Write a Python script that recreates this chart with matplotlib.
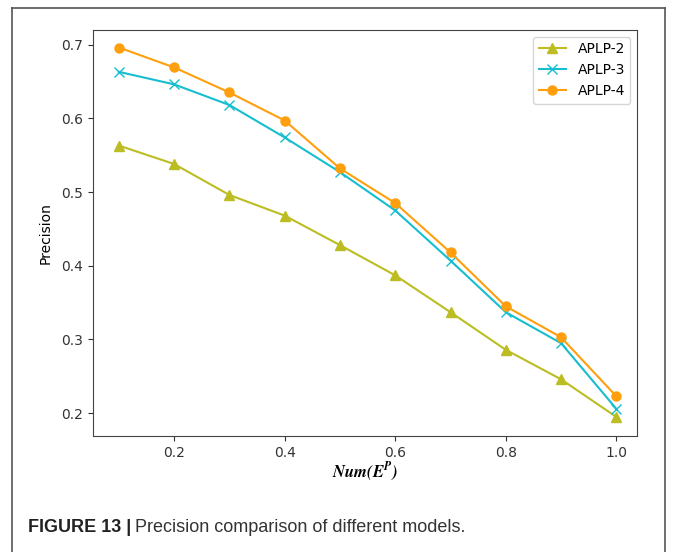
import matplotlib
matplotlib.use('Agg')
import matplotlib.pyplot as plt
from matplotlib.lines import Line2D

# data
x_vals = [0.1, 0.2, 0.3, 0.4, 0.5, 0.6, 0.7, 0.8, 0.9, 1.0]
aplp2 = [0.563, 0.538, 0.496, 0.468, 0.428, 0.387, 0.337, 0.286, 0.246, 0.195]
aplp3 = [0.663, 0.646, 0.618, 0.574, 0.527, 0.475, 0.407, 0.337, 0.295, 0.206]
aplp4 = [0.696, 0.669, 0.635, 0.597, 0.532, 0.485, 0.418, 0.345, 0.303, 0.223]
x_ticks = [0.2, 0.4, 0.6, 0.8, 1.0]
y_ticks = [0.2, 0.3, 0.4, 0.5, 0.6, 0.7]

plt.rcParams['mathtext.fontset'] = 'stix'

fig = plt.figure(figsize=(6.73, 5.52), dpi=100)
ax = fig.add_axes([0.138, 0.210, 0.809, 0.736])

ax.plot(x_vals, aplp2, color='#bcbd22', marker='^', markersize=6.5, lw=1.5, label='APLP-2')
ax.plot(x_vals, aplp3, color='#17becf', marker='x', markersize=6.5, lw=1.5, label='APLP-3')
ax.plot(x_vals, aplp4, color='#ff9f0e', marker='o', markersize=6.5, lw=1.5, label='APLP-4')

ax.set_xticks(x_ticks)
ax.set_yticks(y_ticks)
ax.set_xlim(0.053, 1.038)
ax.set_ylim(0.169, 0.720)
ax.tick_params(labelsize=10, colors='#333333')
for s in ax.spines.values():
    s.set_color('#444444')
ax.set_ylabel('Precision', fontsize=10, labelpad=6)
ax.set_xlabel(r'$\mathbfit{Num(E^P)}$', fontsize=12, labelpad=1)
ax.legend(loc='upper right', fontsize=10)

# outer frame of the figure panel
fc = '#555555'
fig.add_artist(Line2D([12/673, 665/673], [1 - 8/552, 1 - 8/552], color=fc, lw=1.2))
fig.add_artist(Line2D([12/673, 12/673], [0, 1 - 8/552], color=fc, lw=1.2))
fig.add_artist(Line2D([665/673, 665/673], [0, 1 - 8/552], color=fc, lw=1.2))

t = fig.text(28/673, 1 - 527/552, 'FIGURE 13 |', fontsize=13, fontweight='bold',
             family='Liberation Sans', va='center', color='#222222')
fig.canvas.draw()
bb = t.get_window_extent()
fig.text(bb.x1 / fig.bbox.width + 0.005, 1 - 527/552, 'Precision comparison of different models.',
         fontsize=13, family='Liberation Sans', va='center', color='#333333')

fig.savefig('out.png', dpi=100)
